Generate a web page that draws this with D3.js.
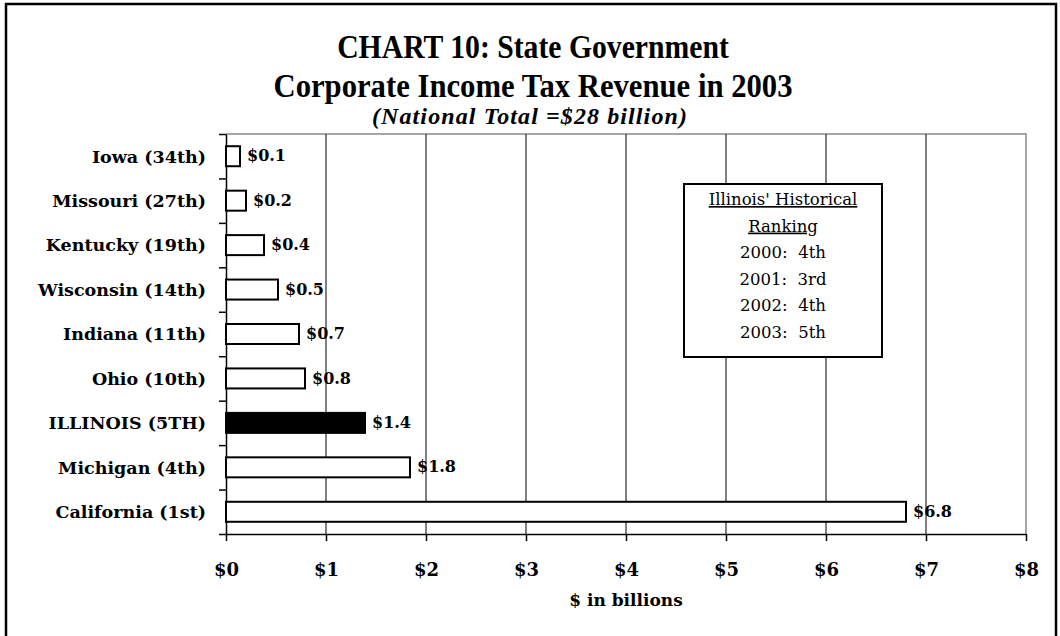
<!DOCTYPE html>
<html>
<head>
<meta charset="utf-8">
<script src="https://cdn.jsdelivr.net/npm/d3@7"></script>
<style>
  body { margin: 0; background: #fff; }
  svg { display: block; }
</style>
</head>
<body>
<svg id="chart" width="1060" height="636"></svg>
<script>
// State corporate income tax revenue, 2003 ($ billions)
const states = [
  "Iowa (34th)", "Missouri (27th)", "Kentucky (19th)", "Wisconsin (14th)",
  "Indiana (11th)", "Ohio (10th)", "ILLINOIS (5TH)", "Michigan (4th)", "California (1st)"
];
const revenue = [0.14, 0.20, 0.38, 0.52, 0.73, 0.79, 1.39, 1.84, 6.80];
const highlightState = "ILLINOIS (5TH)";
const xTickValues = [0, 1, 2, 3, 4, 5, 6, 7, 8];

const titleLines = ["CHART 10: State Government", "Corporate Income Tax Revenue in 2003"];
const subtitle = "(National Total =$28 billion)";
const xAxisTitle = "$ in billions";

const rankingHeader = ["Illinois' Historical", "Ranking"];
const rankingRows = ["2000:  4th", "2001:  3rd", "2002:  4th", "2003:  5th"];

const data = states.map((s, i) => ({ state: s, value: revenue[i] }));

const svg = d3.select("#chart");
const plot = { left: 226, right: 1026, top: 134, bottom: 534 };

const serifBold = "'DejaVu Serif', serif";
const titleFont = "'Liberation Serif', 'Times New Roman', serif";

// outer frame
svg.append("rect")
  .attr("x", 6).attr("y", 4)
  .attr("width", 1050).attr("height", 700)
  .attr("fill", "#fff")
  .attr("stroke", "#000")
  .attr("stroke-width", 2.5);

// titles (slightly condensed bold serif)
const titleG = svg.append("g").attr("font-family", titleFont).attr("text-anchor", "middle").attr("fill", "#000");
titleG.selectAll("text.title").data(titleLines).join("text")
  .attr("class", "title")
  .attr("transform", (d, i) => `translate(533,${58 + i * 39}) scale(${i === 0 ? 0.9 : 0.93},1)`)
  .attr("font-size", 33)
  .attr("font-weight", "bold")
  .text(d => d);
titleG.append("text")
  .attr("x", 530).attr("y", 124)
  .attr("font-size", 24)
  .attr("font-weight", "bold")
  .attr("font-style", "italic")
  .attr("letter-spacing", 1.1)
  .text(subtitle);

// scales
const x = d3.scaleLinear().domain([0, 8]).range([plot.left, plot.right]);
const y = d3.scaleBand().domain(states).range([plot.top, plot.bottom])
  .paddingInner(0.55).paddingOuter(0.275);
const yEdges = d3.scaleLinear().domain([0, states.length]).range([plot.top, plot.bottom]);

// plot border (top and right, gray)
svg.append("path")
  .attr("d", `M${plot.left},${plot.top}H${plot.right}V${plot.bottom}`)
  .attr("fill", "none")
  .attr("stroke", "#8a8a8a")
  .attr("stroke-width", 1.5);

// vertical gridlines
svg.append("g").selectAll("line").data(xTickValues.filter(v => v > 0 && v < 8)).join("line")
  .attr("x1", d => x(d)).attr("x2", d => x(d))
  .attr("y1", plot.top).attr("y2", plot.bottom)
  .attr("stroke", "#000").attr("stroke-width", 1);

// x axis
const xAxis = svg.append("g")
  .attr("transform", `translate(0,${plot.bottom})`)
  .call(d3.axisBottom(x).tickValues(xTickValues).tickSize(7).tickSizeOuter(0).tickPadding(22)
    .tickFormat(d => "$" + d));
xAxis.select(".domain").attr("stroke", "#000").attr("stroke-width", 1.5);
xAxis.selectAll(".tick line").attr("stroke", "#000").attr("stroke-width", 1.5);
xAxis.selectAll(".tick text")
  .attr("font-family", serifBold).attr("font-weight", "bold").attr("font-size", 18).attr("fill", "#000");

svg.append("text")
  .attr("x", (plot.left + plot.right) / 2).attr("y", 606)
  .attr("text-anchor", "middle")
  .attr("font-family", serifBold).attr("font-weight", "bold").attr("font-size", 17)
  .text(xAxisTitle);

// y axis: ticks at category boundaries
const yAxis = svg.append("g")
  .attr("transform", `translate(${plot.left},0)`)
  .call(d3.axisLeft(yEdges).tickValues(d3.range(states.length + 1)).tickSize(7).tickSizeOuter(0).tickFormat(""));
yAxis.select(".domain").attr("stroke", "#000").attr("stroke-width", 1.5);
yAxis.selectAll(".tick line").attr("stroke", "#000").attr("stroke-width", 1.5);

// category labels
svg.append("g").selectAll("text").data(data).join("text")
  .attr("x", plot.left - 20)
  .attr("y", d => y(d.state) + y.bandwidth() / 2)
  .attr("dy", "0.36em")
  .attr("text-anchor", "end")
  .attr("font-family", serifBold).attr("font-weight", "bold").attr("font-size", 17.5)
  .attr("fill", "#000")
  .text(d => d.state);

// bars
svg.append("g").selectAll("rect").data(data).join("rect")
  .attr("x", x(0))
  .attr("y", d => y(d.state))
  .attr("width", d => x(d.value) - x(0))
  .attr("height", y.bandwidth())
  .attr("fill", d => d.state === highlightState ? "#000" : "#fff")
  .attr("stroke", "#000")
  .attr("stroke-width", 2);

// value labels
const fmt = d3.format(".1f");
svg.append("g").selectAll("text").data(data).join("text")
  .attr("x", d => x(d.value) + 7)
  .attr("y", d => y(d.state) + y.bandwidth() / 2)
  .attr("dy", "0.32em")
  .attr("font-family", serifBold).attr("font-weight", "bold").attr("font-size", 16)
  .attr("fill", "#000")
  .text(d => "$" + fmt(d.value));

// historical ranking box
const box = { x: 684, y: 184, w: 198, h: 173 };
svg.append("rect")
  .attr("x", box.x).attr("y", box.y).attr("width", box.w).attr("height", box.h)
  .attr("fill", "#fff").attr("stroke", "#000").attr("stroke-width", 2);
const rankLines = rankingHeader.map(t => ({ t, u: true })).concat(rankingRows.map(t => ({ t, u: false })));
svg.append("g").selectAll("text").data(rankLines).join("text")
  .attr("x", box.x + box.w / 2)
  .attr("y", (d, i) => 205 + i * 26.6)
  .attr("text-anchor", "middle")
  .attr("font-family", "'DejaVu Serif', serif").attr("font-size", 16.5)
  .attr("fill", "#000")
  .style("white-space", "pre")
  .style("text-decoration", d => d.u ? "underline" : "none")
  .text(d => d.t);
</script>
</body>
</html>
